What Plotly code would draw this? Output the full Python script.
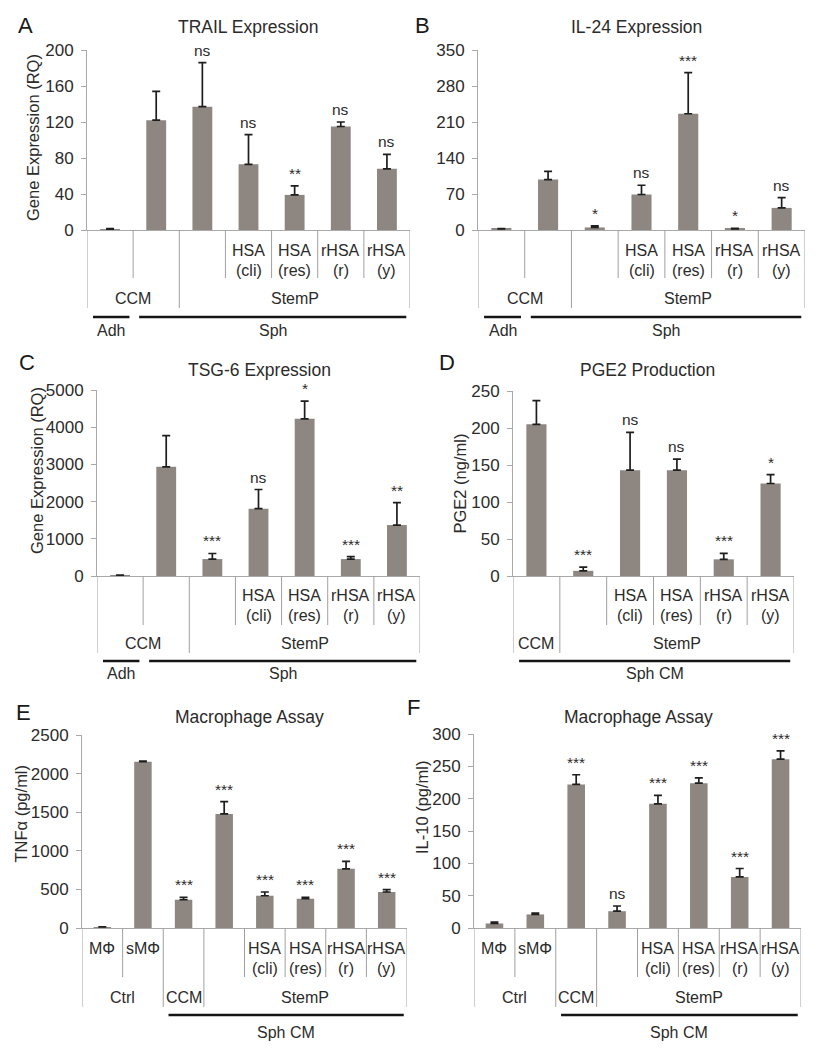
import plotly.graph_objects as go

W, H = 827, 1050
FONT = "Liberation Sans, Arial, sans-serif"
TXT = "#2b2b2b"
BAR = "#8e8681"
AX = "#a9a9a9"
TBL = "#a0a0a0"

# ---------------- data ----------------
# Panel A - TRAIL Expression (RQ)
a_means = [1, 122, 137, 73, 39, 115, 68]
a_errs = [0.5, 32, 49, 33, 10, 5, 16]
a_sig = ["", "", "ns", "ns", "**", "ns", "ns"]
# Panel B - IL-24 Expression (RQ)
b_means = [2, 98, 5, 69, 226, 2, 43]
b_errs = [0.5, 16, 3, 18, 80, 1, 20]
b_sig = ["", "", "*", "ns", "***", "*", "ns"]
# Panel C - TSG-6 Expression (RQ)
c_means = [20, 2935, 455, 1810, 4225, 455, 1370]
c_errs = [5, 840, 150, 515, 475, 65, 605]
c_sig = ["", "", "***", "ns", "*", "***", "**"]
# Panel D - PGE2 (ng/ml)
d_means = [205, 7, 143, 143, 22.5, 125]
d_errs = [32, 5, 51, 15, 8, 12]
d_sig = ["", "***", "ns", "ns", "***", "*"]
# Panel E - TNFa (pg/ml)
e_means = [13, 2155, 366, 1478, 418, 379, 767, 466]
e_errs = [3, 8, 31, 160, 48, 18, 95, 30]
e_sig = ["", "", "***", "***", "***", "***", "***", "***"]
# Panel F - IL-10 (pg/ml)
f_means = [7, 21, 222, 26, 192, 224, 79, 261]
f_errs = [2, 2, 15, 8, 13, 8, 13, 13]
f_sig = ["", "", "***", "ns", "***", "***", "***", "***"]

# category labels
abc_row1 = ["", "", "", "HSA", "HSA", "rHSA", "rHSA"]
abc_row2 = ["", "", "", "(cli)", "(res)", "(r)", "(y)"]
d_row1 = ["", "", "HSA", "HSA", "rHSA", "rHSA"]
d_row2 = ["", "", "(cli)", "(res)", "(r)", "(y)"]
ef_row1 = ["MΦ", "sMΦ", "", "", "HSA", "HSA", "rHSA", "rHSA"]
ef_row2 = ["", "", "", "", "(cli)", "(res)", "(r)", "(y)"]

abc_groups = [("CCM", 0, 1), ("StemP", 2, 6)]
d_groups = [("CCM", 0, 0), ("StemP", 1, 5)]
ef_groups = [("Ctrl", 0, 1), ("CCM", 2, 2), ("StemP", 3, 7)]

abc_under = [("Adh", 0, 0), ("Sph", 1, 6)]
d_under = [("Sph CM", 0, 5)]
ef_under = [("Sph CM", 2, 7)]

# ---------------- layout geometry (pixels) ----------------
OFF_AB = dict(r1=20, r2=40, short=48, r3=68, long=78, black=87, under=100)
OFF_CD = dict(r1=19, r2=39, short=49, r3=67, long=77, black=85, under=97)
OFF_EF = dict(r1=20, r2=40, short=49, r3=69, long=79, black=87, under=104)

panels = [
    dict(letter="A", lxy=(25, 25), box=(87, 410, 50, 230), ymax=200, dtick=40,
         title="TRAIL Expression", tdx=-1, tdy=23, ytitle="Gene Expression (RQ)", ydx=-54, ydy=2,
         means=a_means, errs=a_errs, sig=a_sig, row1=abc_row1, row2=abc_row2,
         groups=abc_groups, under=abc_under, off=OFF_AB),
    dict(letter="B", lxy=(423, 25), box=(478, 805, 50, 230), ymax=350, dtick=70,
         title="IL-24 Expression", tdx=-5, tdy=23, ytitle=None, ydx=0, ydy=0,
         means=b_means, errs=b_errs, sig=b_sig, row1=abc_row1, row2=abc_row2,
         groups=abc_groups, under=abc_under, off=OFF_AB),
    dict(letter="C", lxy=(27, 363), box=(97, 420, 390, 576), ymax=5000, dtick=1000,
         title="TSG-6 Expression", tdx=1, tdy=20, ytitle="Gene Expression (RQ)", ydx=-60, ydy=12,
         means=c_means, errs=c_errs, sig=c_sig, row1=abc_row1, row2=abc_row2,
         groups=abc_groups, under=abc_under, off=OFF_CD),
    dict(letter="D", lxy=(447, 363), box=(513, 794, 391, 576), ymax=250, dtick=50,
         title="PGE2 Production", tdx=-6, tdy=21, ytitle="PGE2 (ng/ml)", ydx=-54, ydy=0,
         means=d_means, errs=d_errs, sig=d_sig, row1=d_row1, row2=d_row2,
         groups=d_groups, under=d_under, off=OFF_CD),
    dict(letter="E", lxy=(23, 712), box=(82, 407, 735, 928), ymax=2500, dtick=500,
         title="Macrophage Assay", tdx=5, tdy=18, ytitle="TNFα (pg/ml)", ydx=-62, ydy=18,
         means=e_means, errs=e_errs, sig=e_sig, row1=ef_row1, row2=ef_row2,
         groups=ef_groups, under=ef_under, off=OFF_EF),
    dict(letter="F", lxy=(413, 707), box=(474, 801, 734, 928), ymax=300, dtick=50,
         title="Macrophage Assay", tdx=1, tdy=17, ytitle="IL-10 (pg/ml)", ydx=-52, ydy=24,
         means=f_means, errs=f_errs, sig=f_sig, row1=ef_row1, row2=ef_row2,
         groups=ef_groups, under=ef_under, off=OFF_EF),
]

fig = go.Figure()
shapes = []
annots = []
layout_axes = {}

for k, p in enumerate(panels, start=1):
    xs = "" if k == 1 else str(k)
    xref, yref = "x" + xs, "y" + xs
    ydom = "y" + xs + " domain"
    xdom = "x" + xs + " domain"
    n = len(p["means"])
    l, r, t, b = p["box"]
    h = b - t
    idx = list(range(n))

    fig.add_trace(go.Bar(
        x=idx, y=p["means"], width=0.43, xaxis=xref, yaxis=yref,
        marker=dict(color=BAR, line=dict(width=0)),
        error_y=dict(type="data", array=p["errs"], arrayminus=[0] * n, symmetric=False,
                     color="#1e1e1e", thickness=1.7, width=4),
        showlegend=False, hoverinfo="skip"))

    layout_axes["xaxis" + xs] = dict(
        domain=[l / W, r / W], anchor=yref, range=[-0.5, n - 0.5], showgrid=False,
        zeroline=False, showline=True, linecolor=AX, linewidth=1, ticks="",
        showticklabels=False, fixedrange=True, automargin=False)
    layout_axes["yaxis" + xs] = dict(
        domain=[1 - b / H, 1 - t / H], anchor=xref, range=[0, p["ymax"]], dtick=p["dtick"],
        tick0=0, showgrid=False, zeroline=False, showline=True, linecolor=AX, linewidth=1,
        ticks="outside", ticklen=5, tickcolor=AX, tickwidth=1, ticklabelstandoff=4,
        tickfont=dict(family=FONT, size=17, color=TXT), fixedrange=True, automargin=False)

    off = p["off"]
    fr = lambda px: -px / h

    # significance labels
    for i, s in enumerate(p["sig"]):
        if s:
            annots.append(dict(x=i, y=p["means"][i] + p["errs"][i], xref=xref, yref=yref,
                               text=s, showarrow=False, yanchor="bottom", yshift=2,
                               font=dict(family=FONT, size=15.5, color=TXT)))

    # category rows
    for i in idx:
        if p["row1"][i]:
            annots.append(dict(x=i, y=fr(off["r1"]), xref=xref, yref=ydom, text=p["row1"][i],
                               showarrow=False, yanchor="middle",
                               font=dict(family=FONT, size=16, color=TXT)))
        if p["row2"][i]:
            annots.append(dict(x=i, y=fr(off["r2"]), xref=xref, yref=ydom, text=p["row2"][i],
                               showarrow=False, yanchor="middle",
                               font=dict(family=FONT, size=16, color=TXT)))

    # table lines
    group_bounds = {-0.5, n - 0.5}
    for name, s0, s1 in p["groups"]:
        group_bounds.add(s0 - 0.5)
        group_bounds.add(s1 + 0.5)
        annots.append(dict(x=(s0 + s1) / 2, y=fr(off["r3"]), xref=xref, yref=ydom, text=name,
                           showarrow=False, yanchor="middle",
                           font=dict(family=FONT, size=16, color=TXT)))
    for bx in [i - 0.5 for i in range(n + 1)]:
        end = off["long"] if bx in group_bounds else off["short"]
        shapes.append(dict(type="line", xref=xref, yref=ydom, x0=bx, x1=bx, y0=0, y1=fr(end),
                           line=dict(color=TBL, width=1)))

    # under bars (black lines)
    for name, s0, s1 in p["under"]:
        x0, x1 = s0 - 0.5 + 0.13, s1 + 0.5 - 0.08
        shapes.append(dict(type="line", xref=xref, yref=ydom, x0=x0, x1=x1,
                           y0=fr(off["black"]), y1=fr(off["black"]),
                           line=dict(color="#151515", width=2.5)))
        annots.append(dict(x=(x0 + x1) / 2, y=fr(off["under"]), xref=xref, yref=ydom, text=name,
                           showarrow=False, yanchor="middle",
                           font=dict(family=FONT, size=16, color=TXT)))

    # title
    annots.append(dict(x=0.5, y=1, xref=xdom, yref=ydom, text=p["title"], showarrow=False,
                       yanchor="middle", yshift=p["tdy"], xshift=p["tdx"],
                       font=dict(family=FONT, size=17.5, color=TXT)))
    # y title
    if p["ytitle"]:
        annots.append(dict(x=0, y=0.5, xref=xdom, yref=ydom, text=p["ytitle"], showarrow=False,
                           textangle=-90, xanchor="center", yanchor="middle",
                           xshift=p["ydx"], yshift=p["ydy"],
                           font=dict(family=FONT, size=16.5, color=TXT)))
    # panel letter
    lx, ly = p["lxy"]
    annots.append(dict(x=lx / W, y=1 - ly / H, xref="paper", yref="paper", text=p["letter"],
                       showarrow=False, xanchor="center", yanchor="middle",
                       font=dict(family=FONT, size=22, color="#1a1a1a")))

fig.update_layout(
    width=W, height=H, margin=dict(l=0, r=0, t=0, b=0, autoexpand=False),
    paper_bgcolor="white", plot_bgcolor="white",
    shapes=shapes, annotations=annots, bargap=0.5, **layout_axes)

fig.write_html("out.html", config=dict(displayModeBar=False),
               post_script="document.body.style.margin='0px';document.body.style.overflow='hidden';")
